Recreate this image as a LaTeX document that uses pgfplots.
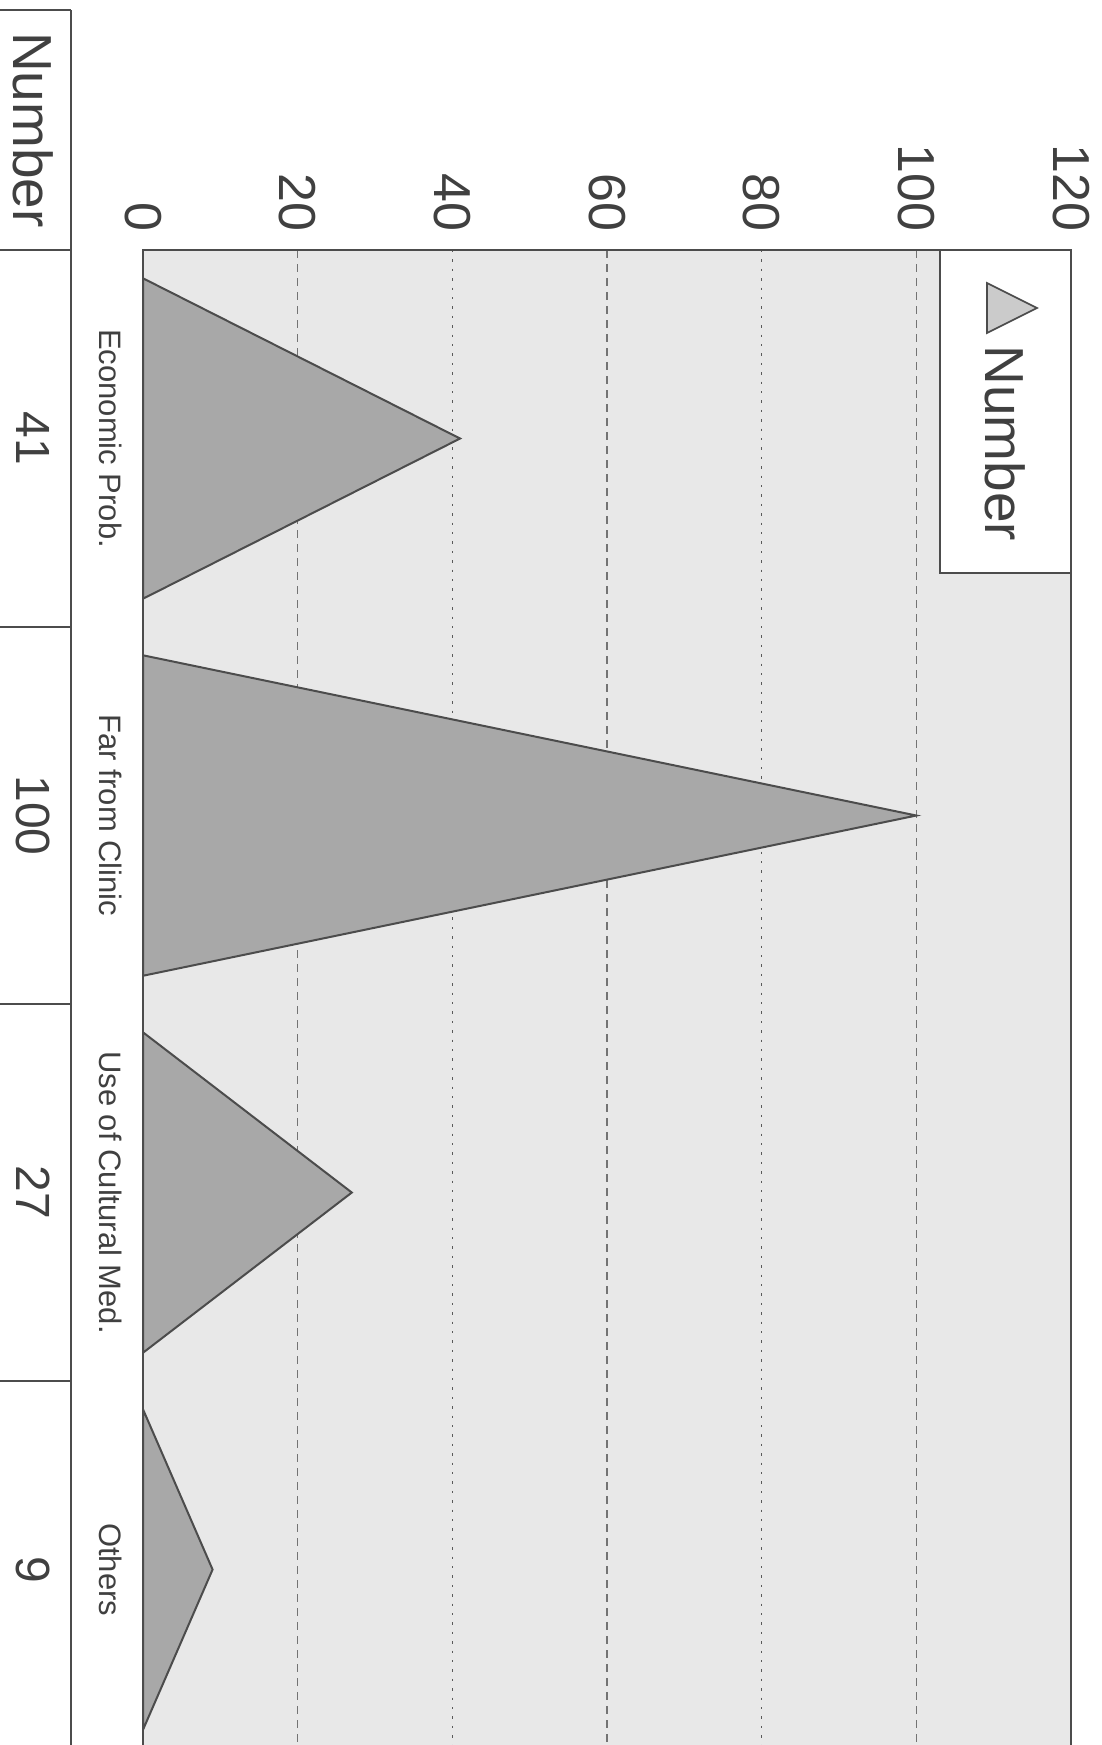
\documentclass[border=0pt]{standalone}
\usepackage{pgfplots}
\pgfplotsset{compat=1.18}
\usepackage{fontspec}
\setmainfont{Liberation Sans}
\definecolor{bgc}{gray}{0.91}
\definecolor{trif}{gray}{0.66}
\definecolor{edge}{gray}{0.3}
\definecolor{txt}{gray}{0.25}
\begin{document}
\begin{tikzpicture}
\begin{axis}[
  scale only axis, width=464pt, height=747.5pt,
  at={(71.5pt,-125pt)}, anchor=north west,
  xmin=0, xmax=120, ymin=0.5, ymax=4.4655, y dir=reverse,
  clip mode=individual,
  axis line style={draw=none},
  axis background/.style={fill=bgc},
  xtick={0,20,...,120},
  xticklabel pos=right,
  major tick length=0pt, minor tick length=0pt,
  minor xtick={40,80},
  xminorgrids=true,
  minor grid style={black!65, line width=0.7pt, dash pattern=on 1.2pt off 3.5pt},
  extra x ticks={20,60,100},
  extra x tick labels={},
  extra x tick style={grid=major, major grid style={black!55, line width=0.6pt, dash pattern=on 4pt off 3pt}},
  ytick={1,2,3,4},
  yticklabels={Economic Prob.,Far from Clinic,Use of Cultural Med.,Others},
  /pgf/number format/assume math mode=true,
  xticklabel style={yshift=9pt, rotate=-90, anchor=east, inner sep=0pt, font=\fontsize{26}{30}\selectfont, text=txt},
  yticklabel style={xshift=-21.5pt, rotate=-90, anchor=base, inner sep=0pt, font=\fontsize{15.5}{18}\selectfont, text=txt},
]
\addplot[fill=trif, draw=edge, line width=1pt] coordinates {(0,0.575) (41,1) (0,1.425)} -- cycle;
\addplot[fill=trif, draw=edge, line width=1pt] coordinates {(0,1.575) (100,2) (0,2.425)} -- cycle;
\addplot[fill=trif, draw=edge, line width=1pt] coordinates {(0,2.575) (27,3) (0,3.425)} -- cycle;
\addplot[fill=trif, draw=edge, line width=1pt] coordinates {(0,3.575) (9,4) (0,4.425)} -- cycle;
\node[rotate=-90, inner sep=0pt, font=\fontsize{24}{26}\selectfont, text=txt] at (axis cs:-14.2,1) {41};
\node[rotate=-90, inner sep=0pt, font=\fontsize{24}{26}\selectfont, text=txt] at (axis cs:-14.2,2) {100};
\node[rotate=-90, inner sep=0pt, font=\fontsize{24}{26}\selectfont, text=txt] at (axis cs:-14.2,3) {27};
\node[rotate=-90, inner sep=0pt, font=\fontsize{24}{26}\selectfont, text=txt] at (axis cs:-14.2,4) {9};
\end{axis}
\begin{scope}[x=0.5pt, y=-0.5pt]
  \draw[edge, line width=0.9pt] (143,1745) -- (143,250) -- (1071,250) -- (1071,1745);
  \draw[edge, line width=0.8pt, fill=white] (940,250) rectangle (1071,573);
  \draw[edge, line width=0.8pt, fill=trif!60!white] (987,283) -- (1037,308) -- (987,333) -- cycle;
  \node[rotate=-90, anchor=base west, inner sep=0pt, font=\fontsize{27.5}{30}\selectfont, text=txt] at (985,345) {Number};
  \draw[edge, line width=0.8pt] (71,10) -- (71,1745);
  \foreach \yy in {10,250,627,1004,1381} \draw[edge, line width=0.8pt] (0,\yy) -- (71,\yy);
  \node[rotate=-90, inner sep=0pt, font=\fontsize{27.5}{30}\selectfont, text=txt] at (33,130) {Number};
\end{scope}
\pgfresetboundingbox
\useasboundingbox (0,0) rectangle (551pt,-872.5pt);
\end{tikzpicture}
\end{document}
